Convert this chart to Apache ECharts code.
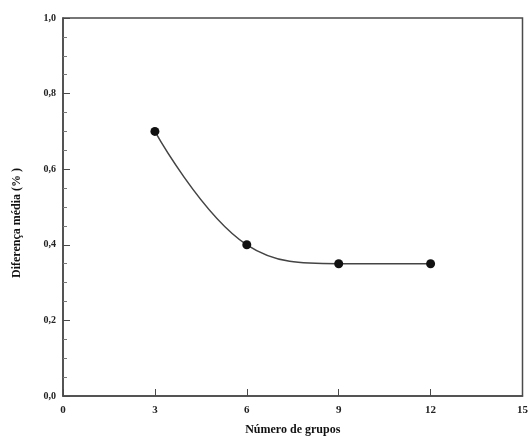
<!DOCTYPE html>
<html>
<head>
<meta charset="utf-8">
<script src="https://cdn.jsdelivr.net/npm/echarts@6/dist/echarts.min.js"></script>
<style>
  html, body { margin: 0; padding: 0; background: #fff; }
  #chart { width: 531px; height: 441px; }
</style>
</head>
<body>
<div id="chart"></div>
<script>
// Mean difference (%) against number of groups
const groups = [3, 6, 9, 12];
const meanDiff = [0.70, 0.40, 0.35, 0.35];
const xTicks = [0, 3, 6, 9, 12, 15];
const yTicks = [0.0, 0.2, 0.4, 0.6, 0.8, 1.0];

const xTitle = 'Número de grupos';
const yTitle = 'Diferença média (% )';

const font = '"Liberation Serif", "DejaVu Serif", serif';
const axisColor = '#4a4a4a';

const chart = echarts.init(document.getElementById('chart'));
chart.setOption({
  animation: false,
  backgroundColor: '#fff',
  grid: {
    left: 63, right: 5, top: 18, bottom: 44,
    show: true, borderColor: axisColor, borderWidth: 1.5, backgroundColor: 'transparent'
  },
  xAxis: {
    type: 'value',
    min: xTicks[0], max: xTicks[xTicks.length - 1], interval: 3,
    name: xTitle,
    nameLocation: 'middle',
    nameGap: 28,
    nameTextStyle: { fontFamily: font, fontWeight: 'bold', fontSize: 12, color: '#111' },
    axisLine: { show: true, lineStyle: { color: axisColor, width: 1.5 } },
    axisTick: { show: true, inside: true, length: 7, lineStyle: { color: axisColor, width: 1 } },
    axisLabel: { margin: 9, fontFamily: font, fontWeight: 'bold', fontSize: 11, color: '#222' },
    splitLine: { show: false }
  },
  yAxis: {
    type: 'value',
    min: yTicks[0], max: yTicks[yTicks.length - 1], interval: 0.2,
    name: yTitle,
    nameLocation: 'middle',
    nameGap: 40,
    // right padding nudges the rotated title a little lower along the axis
    nameTextStyle: { fontFamily: font, fontWeight: 'bold', fontSize: 12, color: '#111', padding: [0, 32, 0, 0] },
    axisLine: { show: true, lineStyle: { color: axisColor, width: 1.5 } },
    axisTick: { show: true, inside: true, length: 7, lineStyle: { color: axisColor, width: 1 } },
    minorTick: { show: true, splitNumber: 4, length: 4, lineStyle: { color: '#777', width: 1 } },
    axisLabel: {
      margin: 7, fontFamily: font, fontWeight: 'bold', fontSize: 10, color: '#222',
      formatter: v => v.toFixed(1).replace('.', ',')
    },
    splitLine: { show: false }
  },
  series: [{
    type: 'line',
    data: groups.map((g, i) => [g, meanDiff[i]]),
    smooth: 0.4,
    symbol: 'circle',
    symbolSize: 9,
    itemStyle: { color: '#111' },
    lineStyle: { color: '#444', width: 1.5 }
  }]
});
</script>
</body>
</html>
